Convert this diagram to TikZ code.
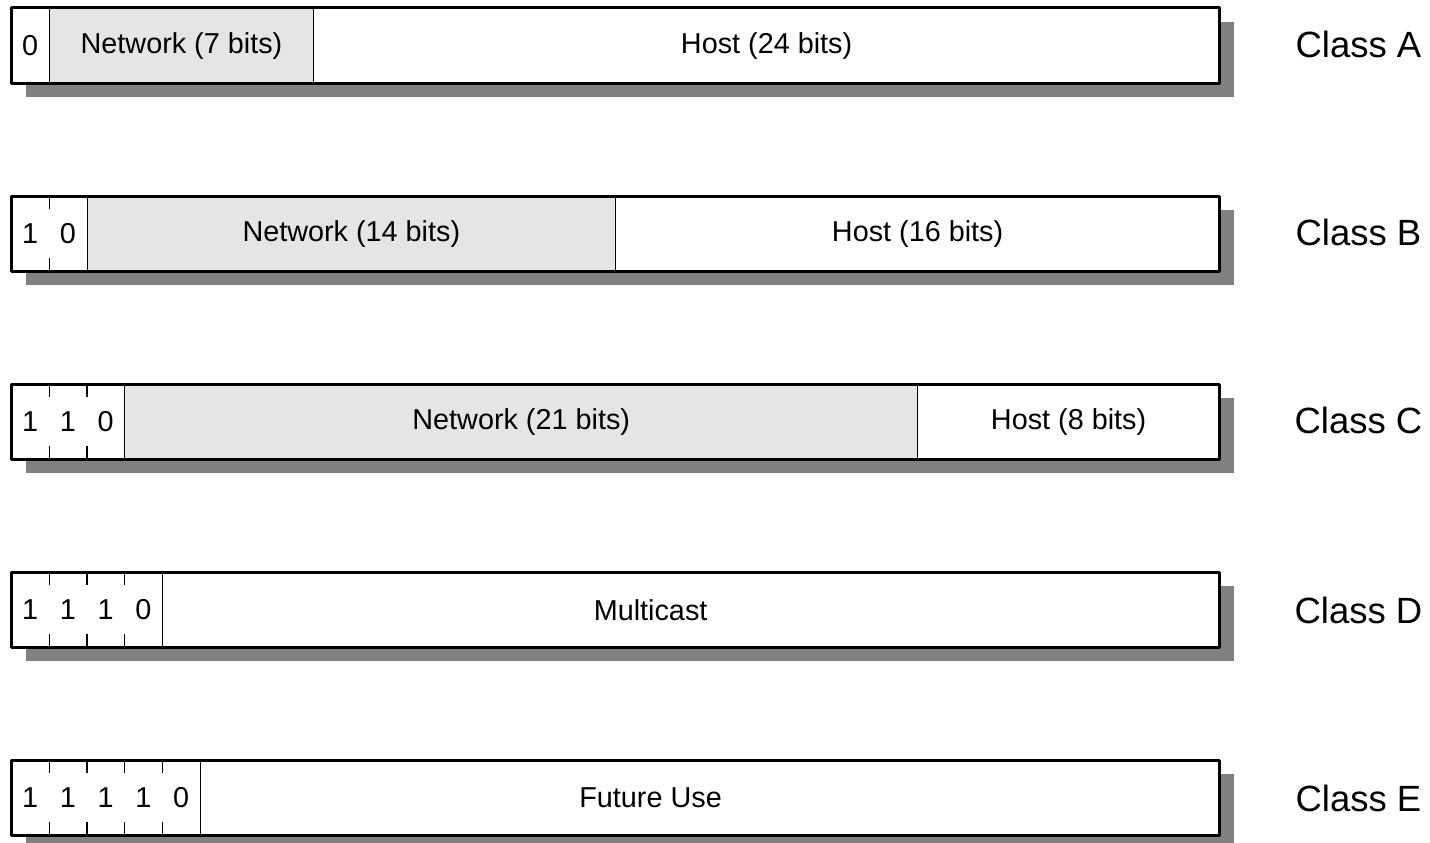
\documentclass[tikz,border=0pt]{standalone}
\usepackage{fontspec}
\setmainfont{Liberation Sans}
\usetikzlibrary{shadows}
\definecolor{netgray}{HTML}{E5E5E5}
\definecolor{shadowgray}{HTML}{808080}
\tikzset{
  bar/.style={rectangle, fill=white, minimum width=1208pt, minimum height=75pt,
    inner sep=0pt, anchor=north west,
    drop shadow={shadow xshift=15pt, shadow yshift=-14pt, fill=shadowgray, opacity=1}},
  frame/.style={line width=3pt, line join=round},
  fieldbase/.style={rectangle, minimum height=75pt, inner sep=0pt, anchor=north west,
    font=\fontsize{28.8}{34}\selectfont},
  bitcell/.style={fieldbase, minimum width=37.75pt},
  netfield/.style={fieldbase, draw=black, line width=1.2pt, fill=netgray},
  hostfield/.style={fieldbase, draw=black, line width=1.2pt, fill=white},
  fieldtext/.style={inner sep=0pt, font=\fontsize{28.8}{34}\selectfont},
  tick/.style={line width=1.2pt},
  cls/.style={font=\fontsize{36.5}{42}\selectfont, inner sep=0pt},
}
\begin{document}
\begin{tikzpicture}[x=1pt,y=-1pt]
\useasboundingbox (0,0) rectangle (1430,843);

% ---------- Class A ----------
\node[bar] (A) at (11,8) {};
\node[bitcell] (A0) at (11,8) {0};
\node[netfield, minimum width=264.25pt] (An) at (48.75,8) {Network (7 bits)};
\node[hostfield, minimum width=906pt] (Ah) at (313,8) {Host (24 bits)};
\draw[frame] (A.north west) rectangle (A.south east);
\node[cls] (Acl) at (1358.5,44) {Class A};

% ---------- Class B ----------
\node[bar] (B) at (11,196) {};
\node[bitcell] (B0) at (11,196) {1};
\node[bitcell] (B1) at (48.75,196) {0};
\node[netfield, minimum width=528.5pt] (Bn) at (86.5,196) {Network (14 bits)};
\node[hostfield, minimum width=604pt] (Bh) at (615,196) {Host (16 bits)};
\draw[tick] (B0.north east) -- ++(0,13);
\draw[tick] (B0.south east) -- ++(0,-13);
\draw[frame] (B.north west) rectangle (B.south east);
\node[cls] (Bcl) at (1358.5,232) {Class B};

% ---------- Class C ----------
\node[bar] (C) at (11,384) {};
\node[bitcell] (C0) at (11,384) {1};
\node[bitcell] (C1) at (48.75,384) {1};
\node[bitcell] (C2) at (86.5,384) {0};
\node[netfield, minimum width=792.75pt] (Cn) at (124.25,384) {Network (21 bits)};
\node[hostfield, minimum width=302pt] (Ch) at (917,384) {Host (8 bits)};
\foreach \b in {C0,C1}{
  \draw[tick] (\b.north east) -- ++(0,13);
  \draw[tick] (\b.south east) -- ++(0,-13);
}
\draw[frame] (C.north west) rectangle (C.south east);
\node[cls] (Ccl) at (1358.5,420) {Class C};

% ---------- Class D ----------
\node[bar] (D) at (11,572) {};
\node[bitcell] (D0) at (11,572) {1};
\node[bitcell] (D1) at (48.75,572) {1};
\node[bitcell] (D2) at (86.5,572) {1};
\node[bitcell] (D3) at (124.25,572) {0};
\node[hostfield, minimum width=1057pt] (Dh) at (162,572) {};
\node[fieldtext] (Dt) at ([xshift=-40.5pt]Dh.center) {Multicast};
\foreach \b in {D0,D1,D2}{
  \draw[tick] (\b.north east) -- ++(0,13);
  \draw[tick] (\b.south east) -- ++(0,-13);
}
\draw[frame] (D.north west) rectangle (D.south east);
\node[cls] (Dcl) at (1358.5,610) {Class D};

% ---------- Class E ----------
\node[bar] (E) at (11,760) {};
\node[bitcell] (E0) at (11,760) {1};
\node[bitcell] (E1) at (48.75,760) {1};
\node[bitcell] (E2) at (86.5,760) {1};
\node[bitcell] (E3) at (124.25,760) {1};
\node[bitcell] (E4) at (162,760) {0};
\node[hostfield, minimum width=1019.25pt] (Eh) at (199.75,760) {};
\node[fieldtext] (Et) at ([xshift=-59.4pt]Eh.center) {Future Use};
\foreach \b in {E0,E1,E2,E3}{
  \draw[tick] (\b.north east) -- ++(0,13);
  \draw[tick] (\b.south east) -- ++(0,-13);
}
\draw[frame] (E.north west) rectangle (E.south east);
\node[cls] (Ecl) at (1358.5,798) {Class E};
\end{tikzpicture}
\end{document}
